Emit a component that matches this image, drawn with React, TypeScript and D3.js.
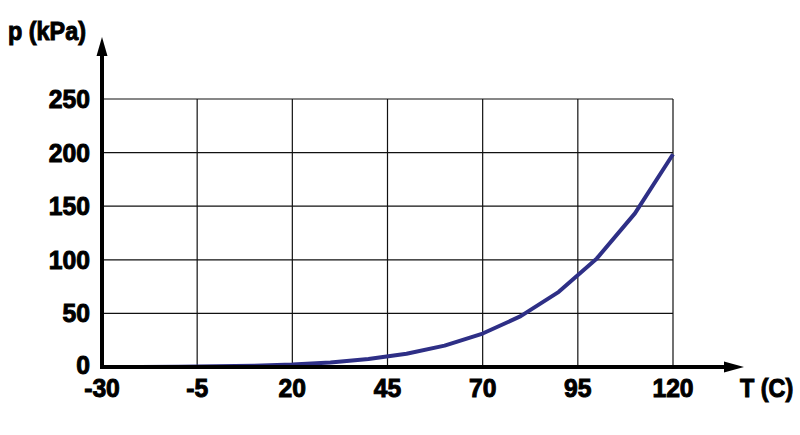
import React from "react";
import * as d3 from "d3";

const temps = [-30, -20, -10, 0, 10, 20, 30, 40, 50, 60, 70, 80, 90, 100, 110, 120];
const pressures = [0.05, 0.1, 0.26, 0.61, 1.23, 2.34, 4.25, 7.38, 12.35, 19.9, 31.2, 47.4, 70.1, 101.3, 143.3, 198.5];
const xTicks = [-30, -5, 20, 45, 70, 95, 120];
const yTicks = [0, 50, 100, 150, 200, 250];
const xTitle = "T (C)";
const yTitle = "p (kPa)";

const W = 800;
const H = 435;
const FONT = "'Liberation Sans', Arial, sans-serif";

export default function App() {
  const x = d3.scaleLinear().domain([-30, 120]).range([102, 673]);
  const y = d3.scaleLinear().domain([0, 250]).range([367, 99]);
  const data = temps.map((t, i) => ({ t, p: pressures[i] }));
  const line = d3
    .line<{ t: number; p: number }>()
    .x((d) => x(d.t))
    .y((d) => y(d.p));

  const x0 = x(-30);
  const x1 = x(120);
  const y0 = y(0);
  const yTop = y(250);

  const textProps = {
    fontFamily: FONT,
    fontWeight: "bold" as const,
    fontSize: 26,
    fill: "#000",
    stroke: "#000",
    strokeWidth: 1,
  };

  return (
    <svg
      width={W}
      height={H}
      style={{ position: "absolute", left: 0, top: 0, background: "#fff" }}
    >
      <rect width={W} height={H} fill="#fff" />
      {/* gridlines */}
      {yTicks.slice(1).map((v) => (
        <line key={"gy" + v} x1={x0} x2={x1} y1={y(v)} y2={y(v)} stroke="#111" strokeWidth={1.2} />
      ))}
      {xTicks.slice(1).map((v) => (
        <line key={"gx" + v} x1={x(v)} x2={x(v)} y1={yTop} y2={y0} stroke="#111" strokeWidth={1.2} />
      ))}
      {/* curve */}
      <path d={line(data) || ""} fill="none" stroke="#2e2f86" strokeWidth={4} strokeLinejoin="round" />
      {/* axes */}
      <line x1={x0} x2={x0} y1={y0 + 2} y2={52} stroke="#000" strokeWidth={4} />
      <path d={`M${x0 - 5.5},56 L${x0},37 L${x0 + 5.5},56 Z`} fill="#000" />
      <line x1={x0 - 2} x2={728} y1={y0} y2={y0} stroke="#000" strokeWidth={4} />
      <path d={`M724,${y0 - 5.5} L744,${y0} L724,${y0 + 5.5} Z`} fill="#000" />
      {/* y tick labels */}
      {yTicks.map((v) => (
        <text
          key={"yt" + v}
          transform={`translate(90,${y(v) + (v === 0 ? 7 : 9)}) scale(0.95,1)`}
          textAnchor="end"
          {...textProps}
        >
          {v}
        </text>
      ))}
      {/* x tick labels */}
      {xTicks.map((v) => (
        <text
          key={"xt" + v}
          transform={`translate(${x(v)},397) scale(0.95,1)`}
          textAnchor="middle"
          {...textProps}
        >
          {v}
        </text>
      ))}
      {/* titles */}
      <text transform="translate(8,40) scale(0.9,1)" {...textProps}>
        {yTitle}
      </text>
      <text transform="translate(740,397) scale(0.9,1)" {...textProps}>
        {xTitle}
      </text>
    </svg>
  );
}
